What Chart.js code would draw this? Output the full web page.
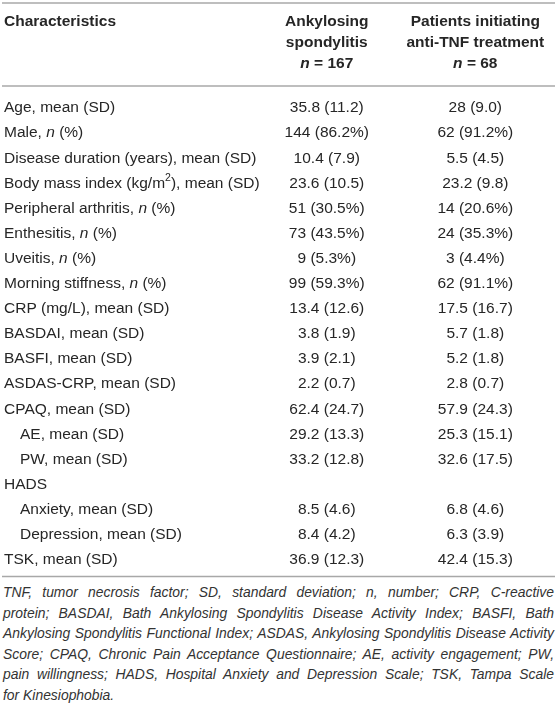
<!DOCTYPE html>
<html>
<head>
<meta charset="utf-8">
<script src="https://cdn.jsdelivr.net/npm/chart.js@4.4.0/dist/chart.umd.min.js"></script>
<style>
    html, body { margin: 0; padding: 0; background: #fff; }
    #wrap { position: relative; width: 557px; height: 582px; }
    #note {
        margin-left: 3px;
        width: 551px;
        font: italic 13.9px 'Liberation Sans', Arial, sans-serif;
        line-height: 20.5px;
        color: #333;
    }
    #note div { text-align: justify; text-align-last: justify; }
    #note div:last-child { text-align-last: left; }
</style>
</head>
<body>
<div id="wrap"><canvas id="table"></canvas></div>
<div id="note"></div>
<script>
// rows of the table (*x* = italic, ^x^ = superscript)
const characteristics = [
    'Age, mean (SD)',
    'Male, *n* (%)',
    'Disease duration (years), mean (SD)',
    'Body mass index (kg/m^2^), mean (SD)',
    'Peripheral arthritis, *n* (%)',
    'Enthesitis, *n* (%)',
    'Uveitis, *n* (%)',
    'Morning stiffness, *n* (%)',
    'CRP (mg/L), mean (SD)',
    'BASDAI, mean (SD)',
    'BASFI, mean (SD)',
    'ASDAS-CRP, mean (SD)',
    'CPAQ, mean (SD)',
    'AE, mean (SD)',
    'PW, mean (SD)',
    'HADS',
    'Anxiety, mean (SD)',
    'Depression, mean (SD)',
    'TSK, mean (SD)'
];
// sub-scales shown indented under their parent row
const subItems = ['AE, mean (SD)', 'PW, mean (SD)', 'Anxiety, mean (SD)', 'Depression, mean (SD)'];

const ankylosing = [
    '35.8 (11.2)', '144 (86.2%)', '10.4 (7.9)', '23.6 (10.5)', '51 (30.5%)',
    '73 (43.5%)', '9 (5.3%)', '99 (59.3%)', '13.4 (12.6)', '3.8 (1.9)',
    '3.9 (2.1)', '2.2 (0.7)', '62.4 (24.7)', '29.2 (13.3)', '33.2 (12.8)',
    '', '8.5 (4.6)', '8.4 (4.2)', '36.9 (12.3)'
];
const antiTNF = [
    '28 (9.0)', '62 (91.2%)', '5.5 (4.5)', '23.2 (9.8)', '14 (20.6%)',
    '24 (35.3%)', '3 (4.4%)', '62 (91.1%)', '17.5 (16.7)', '5.7 (1.8)',
    '5.2 (1.8)', '2.8 (0.7)', '57.9 (24.3)', '25.3 (15.1)', '32.6 (17.5)',
    '', '6.8 (4.6)', '6.3 (3.9)', '42.4 (15.3)'
];

const columnHeaders = [
    ['Characteristics'],
    ['Ankylosing', 'spondylitis', '*n* = 167'],
    ['Patients initiating', 'anti-TNF treatment', '*n* = 68']
];

const footnote = [
    'TNF, tumor necrosis factor; SD, standard deviation; n, number; CRP, C-reactive',
    'protein; BASDAI, Bath Ankylosing Spondylitis Disease Activity Index; BASFI, Bath',
    'Ankylosing Spondylitis Functional Index; ASDAS, Ankylosing Spondylitis Disease Activity',
    'Score; CPAQ, Chronic Pain Acceptance Questionnaire; AE, activity engagement; PW,',
    'pain willingness; HADS, Hospital Anxiety and Depression Scale; TSK, Tampa Scale',
    'for Kinesiophobia.'
];

const FONT = "'Liberation Sans', Arial, sans-serif";
const TEXT = '#262626';
const RULE = '#a8a8a8';
const X_MIN = -1.2;
const X_MAX = 2.55;

function richParts(str) {
    return str.split(/(\*[^*]+\*|\^[^^]+\^)/).filter(s => s).map(s => {
        if (s[0] === '*') return { t: s.slice(1, -1), style: 'italic' };
        if (s[0] === '^') return { t: s.slice(1, -1), style: 'sup' };
        return { t: s, style: '' };
    });
}

function drawRich(ctx, str, x, y, align, size, weight) {
    const parts = richParts(str);
    const fontFor = p => `${p.style === 'italic' ? 'italic ' : ''}${weight} ${p.style === 'sup' ? size * 0.68 : size}px ${FONT}`;
    let w = 0;
    parts.forEach(p => { ctx.font = fontFor(p); p.w = ctx.measureText(p.t).width; w += p.w; });
    let cx = align === 'center' ? x - w / 2 : x;
    ctx.textAlign = 'left';
    ctx.textBaseline = 'middle';
    parts.forEach(p => {
        ctx.font = fontFor(p);
        ctx.fillText(p.t, cx, p.style === 'sup' ? y - size * 0.32 : y);
        cx += p.w;
    });
}

function hRule(ctx, y, w) {
    ctx.beginPath();
    ctx.moveTo(2, y);
    ctx.lineTo(w - 2, y);
    ctx.stroke();
}

const tableText = {
    id: 'tableText',
    afterDatasetsDraw(chart) {
        const { ctx, chartArea, scales: { x } } = chart;
        ctx.save();
        ctx.strokeStyle = RULE;
        ctx.lineWidth = 1.6;
        hRule(ctx, 3, chart.width);
        hRule(ctx, 86, chart.width);
        hRule(ctx, chartArea.bottom + 4, chart.width);

        ctx.fillStyle = TEXT;
        // header
        const headerY = [22, 43, 64];
        drawRich(ctx, columnHeaders[0][0], chartArea.left + 4, headerY[0], 'left', 15.5, 'bold');
        [1, 2].forEach(c => {
            columnHeaders[c].forEach((line, j) => {
                drawRich(ctx, line, x.getPixelForValue(c), headerY[j], 'center', 15.5, 'bold');
            });
        });

        // body cells
        chart.data.datasets.forEach((ds, di) => {
            chart.getDatasetMeta(di).data.forEach((el, i) => {
                const txt = ds.cells[i];
                if (!txt) return;
                if (di === 0) {
                    const indent = subItems.includes(txt) ? 16 : 0;
                    drawRich(ctx, txt, el.x + 4 + indent, el.y, 'left', 15.5, 'normal');
                } else {
                    drawRich(ctx, txt, el.x, el.y, 'center', 15.5, 'normal');
                }
            });
        });
        ctx.restore();
    }
};

new Chart(document.getElementById('table'), {
    type: 'scatter',
    data: {
        datasets: [
            { label: 'Characteristics', cells: characteristics, data: characteristics.map((c, i) => ({ x: X_MIN, y: i })) },
            { label: 'Ankylosing spondylitis', cells: ankylosing, data: ankylosing.map((v, i) => ({ x: 1, y: i })) },
            { label: 'Patients initiating anti-TNF treatment', cells: antiTNF, data: antiTNF.map((v, i) => ({ x: 2, y: i })) }
        ]
    },
    options: {
        responsive: true,
        maintainAspectRatio: false,
        animation: false,
        events: [],
        elements: { point: { radius: 0, hoverRadius: 0 } },
        layout: { padding: { top: 95.5, bottom: 9.5, left: 0, right: 0 } },
        plugins: {
            legend: { display: false },
            tooltip: { enabled: false }
        },
        scales: {
            x: { type: 'linear', min: X_MIN, max: X_MAX, display: false },
            y: { type: 'category', labels: characteristics, offset: true, display: false }
        }
    },
    plugins: [tableText]
});

const note = document.getElementById('note');
footnote.forEach(line => {
    const d = document.createElement('div');
    d.textContent = line;
    note.appendChild(d);
});
</script>
</body>
</html>
